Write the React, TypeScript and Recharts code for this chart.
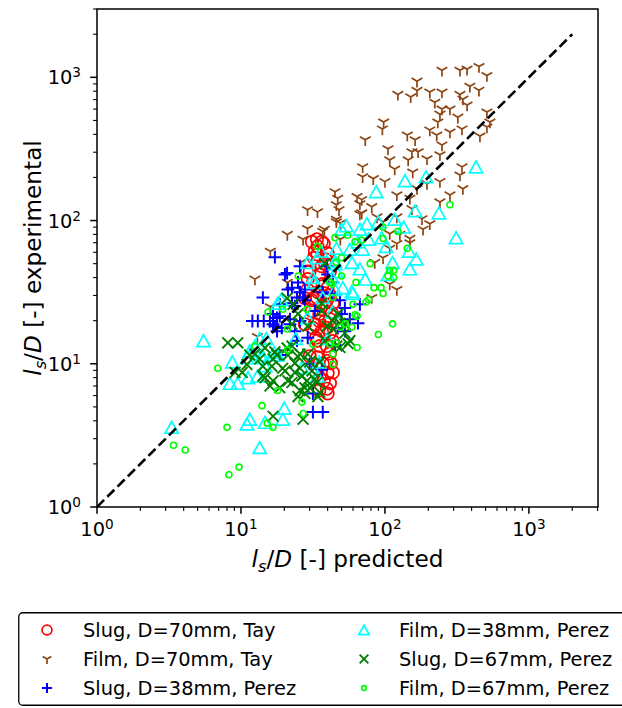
import React from 'react';
import { ScatterChart, Scatter, XAxis, YAxis, ReferenceArea } from 'recharts';

type P = [number, number];

// Slug, D=70mm, Tay  (predicted, experimental)
const slug70Tay: P[] = [
  [33.7, 74], [37.6, 69], [40, 59], [34, 66], [34, 58], [33.7, 51], [30, 44], [35, 42], [31.6, 37], [37, 36],
  [40, 34], [29, 33], [33.7, 29], [39.5, 27.8], [43.5, 26.5], [42.8, 22.6], [35, 19.9], [27.8, 18.9], [39.5, 17.8],
  [31.6, 17.8], [36.4, 16.9], [41.5, 16.4], [39.5, 13.3], [30, 11.3], [34, 11.1], [39.5, 10.5], [37, 10], [40, 8.6],
  [41.5, 7.3], [39.5, 6.7], [35, 6.5], [28.7, 44], [35, 22.3], [32.6, 18.9], [39.5, 24.5], [32.6, 61], [41.5, 44],
  [38.3, 50], [34, 14.5], [41.5, 11.8], [36.4, 48], [31, 27.8], [38.3, 31],
  [31.1, 71], [36.4, 71], [32.1, 55], [38.9, 53.5], [29.1, 39], [34.2, 31.6], [41.5, 30.1], [31.1, 23.4], [36.4, 25.3],
  [41.5, 20.5], [33.2, 15.2], [38.3, 19.9], [43.5, 14.4], [35.3, 13.3], [42.1, 10.1], [34.2, 9.3], [37.6, 7.6],
  [43.5, 8.7], [40, 6.2], [35.3, 8], [31.6, 28.7], [27.8, 28.7],
];

// Film, D=70mm, Tay
const film70Tay: P[] = [
  [249, 1120], [332, 1120], [372, 1140], [450, 1190], [511, 1030], [167, 940], [123, 760], [167, 810], [151, 730],
  [205, 790], [249, 790], [332, 760], [389, 866], [450, 813], [222, 670], [348, 704], [372, 640], [249, 600], [283, 600],
  [241, 553], [321, 527], [511, 572], [536, 487], [511, 450], [98, 487], [96, 436], [205, 429], [233, 487], [283, 415],
  [343, 436], [457, 389], [229, 395], [73, 366], [143, 395], [162, 366], [249, 337], [105, 317], [154, 302], [170, 302],
  [108, 265], [145, 265], [196, 270], [241, 288], [29, 119], [34, 115], [37, 84], [29, 88], [21, 80], [70, 237],
  [70, 202], [83, 196], [100, 187], [117, 229], [156, 218], [196, 181], [241, 187], [343, 237], [332, 208], [45, 159],
  [47, 143], [46, 129], [46, 98], [64, 147], [69, 140], [67, 131], [81, 125], [121, 151], [149, 143], [167, 167],
  [283, 151], [348, 167], [154, 121], [241, 135], [69, 113], [88, 106], [97, 98], [121, 106], [181, 103], [205, 95],
  [184, 87], [108, 81], [127, 80], [149, 75], [49, 74], [108, 64], [121, 69], [149, 70], [97, 55], [85, 51], [108, 36],
  [121, 33], [81, 29], [48, 119], [46, 102], [38, 87], [27, 74], [16, 61], [12.5, 39], [26, 51], [21, 37], [13, 15.5],
  [16, 25], [67, 111], [49, 96],
];

// Slug, D=38mm, Perez
const slug38Perez: P[] = [
  [17.2, 55.5], [20.9, 43], [21.2, 33], [14.2, 29], [18.6, 26], [12, 19.9], [13.1, 19.9], [14.4, 19.9], [15.9, 19.9],
  [16.7, 22.3], [18.6, 21.5], [17.8, 16.9], [24.9, 37], [27.8, 33], [39.5, 48], [40, 42], [43.5, 37], [24.5, 29],
  [37, 31.6], [20.2, 42], [42.8, 31], [27, 29], [22.6, 26.5], [52.7, 24.5], [32.6, 23.4], [19.2, 17.8], [47, 17.8],
  [17.8, 20.9], [17.2, 18.3], [16.7, 18.9], [21.9, 18.9], [30, 10], [36.4, 9.1], [31.6, 6.2], [31.6, 4.6], [37, 4.6],
  [18.6, 11.5], [23.7, 16.9], [25.7, 48], [48.7, 27.8], [57, 20.5], [52.7, 16.9], [45, 13.5], [67, 26], [65, 19.2],
  [50, 22.3], [22.6, 34], [25.7, 31.6], [23.7, 25.3], [27.8, 27.8], [21.9, 20.5], [25.7, 19.9], [29.1, 15.2],
  [24.5, 14.5],
];

// Film, D=38mm, Perez
const film38Perez: P[] = [
  [429, 237], [193, 202], [138, 190], [87, 159], [162, 117], [237, 113], [117, 102], [54, 92], [75, 95], [90, 98],
  [67, 87], [135, 90], [312, 76], [65, 71], [77, 74], [95, 76], [57, 63], [70, 63], [102, 66], [165, 54], [147, 61],
  [113, 51], [149, 46], [67, 46], [105, 42], [73, 39], [45, 50], [51, 34], [59, 32], [46, 44], [43, 40], [29, 51],
  [34, 55], [46, 64], [32, 37], [45, 33], [29, 21], [43, 23], [37, 29], [15, 15], [5.5, 14.5], [50, 87], [36, 61],
  [59, 51], [60, 31], [19, 28], [24, 15], [12.5, 13.3], [14, 11], [26.5, 9.4], [20, 4.9], [19.5, 4.1], [14.7, 3.9],
  [40, 15], [35, 10.3], [34, 8.2], [8.7, 10.3], [8.4, 7.3], [9.5, 7.3], [11.2, 8], [13, 8.2], [11, 11], [14, 11.5],
  [18, 11.5], [14.7, 9.7], [13.5, 15], [11.5, 4.1], [11, 3.8], [13.5, 2.6], [3.3, 3.6], [11.5, 12.3], [17, 12],
  [18, 26.5], [31.6, 40], [45, 52],
];

// Slug, D=67mm, Perez
const slug67Perez: P[] = [
  [8.1, 14], [9.5, 14], [11.5, 11.5], [13.5, 10.8], [9.1, 8.7], [10.2, 8.7], [17.8, 11.5], [19.5, 9.3], [14.7, 8],
  [15.9, 7], [18.6, 6.8], [21.2, 7.6], [23.7, 8.7], [25.7, 9.3], [28.7, 7.6], [31.1, 8.9], [33.7, 7.4], [35.3, 6.3],
  [27.8, 6.2], [20.9, 12.9], [24.9, 11.2], [29.1, 11.7], [16.7, 4.3], [27, 4.1], [35.3, 10.3], [14.7, 12.9], [17.2, 12.1],
  [21.2, 11.5], [16.4, 9.6], [20.2, 8.9], [14.2, 8.2], [16.7, 7.6], [30.1, 6.8], [25.7, 6.5], [55.5, 13.8], [39.5, 18.3],
  [38.3, 14.5], [46.4, 13.3], [11, 9.9], [14.2, 9.6], [16.7, 10.8], [20.9, 28.7], [23, 26], [24.9, 22.3], [36.4, 23.4],
  [43.5, 19.9], [52.7, 18.9], [22.6, 18.9], [29.1, 18.3], [38.3, 50], [36.4, 26.5], [52.7, 16.4], [57.1, 14.5],
  [48.7, 13], [43.5, 17.5], [48.7, 19.2], [47.1, 22.3], [12.5, 11.7], [22.6, 13.3], [25.7, 11.7], [23.7, 10.1],
  [30.1, 10.3], [26.5, 8.2], [22.6, 7.4], [32.6, 7.8], [27.8, 6.8], [34.2, 5.9], [24.9, 5.9],
];

// Film, D=67mm, Perez
const film67Perez: P[] = [
  [283, 129], [45, 76], [55, 79], [62, 71], [69, 73], [97, 90], [97, 75], [123, 84], [143, 64], [79, 50], [50, 55],
  [50, 41], [63, 37], [43, 36], [108, 45], [115, 45], [105, 41], [115, 40], [84, 34], [94, 34], [97, 31], [74, 27],
  [77, 28], [60, 26], [64, 21.5], [113, 19], [90, 16], [64, 13], [59, 18], [46, 14], [43.5, 11.7], [34, 66], [25, 41],
  [41.5, 37], [43.5, 29], [15.4, 23], [28.7, 24], [21, 17.5], [19.5, 24], [49, 18], [62, 22], [12.5, 13.3], [21, 12.5],
  [31.6, 13.7], [41.5, 13.7], [43.5, 9.9], [53, 19], [18, 6.5], [14, 5.1], [26.5, 5.4], [27, 4.5], [15.2, 3.85],
  [16.7, 3.6], [6.9, 9.3], [8, 3.6], [4.1, 2.5], [9.7, 1.9], [8.25, 1.68], [3.4, 2.7], [46, 51],
];

// y = x reference line end points
const identityLine: P[] = [[1, 1], [2000, 2000]];

// axis ticks (majors are powers of ten, the rest are minor ticks)
const axisTicks: number[] = [
  1, 2, 3, 4, 5, 6, 7, 8, 9, 10, 20, 30, 40, 50, 60, 70, 80, 90,
  100, 200, 300, 400, 500, 600, 700, 800, 900, 1000, 2000, 3000,
];
const xDomain: [number, number] = [1, 3020];
const yDomain: [number, number] = [1, 3000];

const legendLabels: string[] = [
  'Slug, D=70mm, Tay',
  'Film, D=70mm, Tay',
  'Slug, D=38mm, Perez',
  'Film, D=38mm, Perez',
  'Slug, D=67mm, Perez',
  'Film, D=67mm, Perez',
];

const COLORS = {
  red: '#ff0000',
  brown: '#8b4513',
  blue: '#0000ff',
  cyan: '#00ffff',
  green: '#008000',
  lime: '#00ff00',
};

const FONT = "'DejaVu Sans', sans-serif";

type Kind = 'circle' | 'tri_down' | 'plus' | 'triangle' | 'x' | 'small';

function drawMarker(kind: Kind, cx: number, cy: number, color: string, s = 1) {
  switch (kind) {
    case 'circle':
      return <circle cx={cx} cy={cy} r={6.2 * s} fill="none" stroke={color} strokeWidth={1.7} />;
    case 'tri_down': {
      const r = 6.2 * s;
      return (
        <path
          d={`M${cx},${cy}L${cx},${cy + r}M${cx},${cy}L${cx - 0.866 * r},${cy - 0.5 * r}M${cx},${cy}L${cx + 0.866 * r},${cy - 0.5 * r}`}
          stroke={color}
          strokeWidth={1.7}
          fill="none"
        />
      );
    }
    case 'plus': {
      const r = 6.4 * s;
      return (
        <path d={`M${cx - r},${cy}H${cx + r}M${cx},${cy - r}V${cy + r}`} stroke={color} strokeWidth={2} fill="none" />
      );
    }
    case 'x': {
      const r = 5.4 * s;
      return (
        <path
          d={`M${cx - r},${cy - r}L${cx + r},${cy + r}M${cx - r},${cy + r}L${cx + r},${cy - r}`}
          stroke={color}
          strokeWidth={1.9}
          fill="none"
        />
      );
    }
    case 'triangle': {
      const rx = 6.6 * s;
      const ry = 5.9 * s;
      return (
        <path
          d={`M${cx},${cy - ry}L${cx - rx},${cy + ry}L${cx + rx},${cy + ry}Z`}
          stroke={color}
          strokeWidth={1.7}
          fill="none"
          strokeLinejoin="miter"
        />
      );
    }
    case 'small':
    default:
      return <circle cx={cx} cy={cy} r={3 * s} fill="none" stroke={color} strokeWidth={1.6} />;
  }
}

const markerShape = (kind: Kind, color: string) => (props: any) => {
  const { cx, cy } = props;
  if (cx == null || cy == null) return <g />;
  return drawMarker(kind, cx, cy, color);
};

const series: { name: string; data: P[]; kind: Kind; color: string }[] = [
  { name: legendLabels[0], data: slug70Tay, kind: 'circle', color: COLORS.red },
  { name: legendLabels[1], data: film70Tay, kind: 'tri_down', color: COLORS.brown },
  { name: legendLabels[2], data: slug38Perez, kind: 'plus', color: COLORS.blue },
  { name: legendLabels[3], data: film38Perez, kind: 'triangle', color: COLORS.cyan },
  { name: legendLabels[4], data: slug67Perez, kind: 'x', color: COLORS.green },
  { name: legendLabels[5], data: film67Perez, kind: 'small', color: COLORS.lime },
];

const toXY = (a: P[]) => a.map(([x, y]) => ({ x, y }));

const isMajor = (v: number) => Math.abs(Math.log10(v) - Math.round(Math.log10(v))) < 1e-9;

const XTick = (props: any) => {
  const { x, y, payload } = props;
  const v = payload.value as number;
  const major = isMajor(v);
  return (
    <g>
      <line x1={x} y1={y} x2={x} y2={y + (major ? 6.8 : 3.9)} stroke="#000" strokeWidth={major ? 1.5 : 1.1} />
      {major && (
        <text x={x} y={y + 29} textAnchor="middle" fontSize={19.4} fill="#000" fontFamily={FONT}>
          <tspan>10</tspan>
          <tspan dy={-7} fontSize={13.6}>{Math.round(Math.log10(v))}</tspan>
        </text>
      )}
    </g>
  );
};

const YTick = (props: any) => {
  const { x, y, payload } = props;
  const v = payload.value as number;
  const major = isMajor(v);
  return (
    <g>
      <line x1={x - (major ? 6.8 : 3.9)} y1={y} x2={x} y2={y} stroke="#000" strokeWidth={major ? 1.5 : 1.1} />
      {major && (
        <text x={x - 16} y={y + 7} textAnchor="end" fontSize={19.4} fill="#000" fontFamily={FONT}>
          <tspan>10</tspan>
          <tspan dy={-7} fontSize={13.6}>{Math.round(Math.log10(v))}</tspan>
        </text>
      )}
    </g>
  );
};

const AxisTitle = ({ x, y, rotate, rest }: { x: number; y: number; rotate?: boolean; rest: string }) => (
  <text
    x={x}
    y={y}
    textAnchor="middle"
    fontSize={23.2}
    fill="#000"
    fontFamily={FONT}
    transform={rotate ? `rotate(-90 ${x} ${y})` : undefined}
  >
    <tspan fontStyle="italic">l</tspan>
    <tspan fontStyle="italic" fontSize={16.2} dy={5}>s</tspan>
    <tspan dy={-5}>/</tspan>
    <tspan fontStyle="italic">D</tspan>
    <tspan>{rest}</tspan>
  </text>
);

const XLabel = (props: any) => {
  const vb = props.viewBox;
  return <AxisTitle x={vb.x + vb.width / 2} y={vb.y + 60} rest=" [-] predicted" />;
};

const YLabel = (props: any) => {
  const vb = props.viewBox;
  return <AxisTitle x={vb.x + 33} y={vb.y + vb.height / 2} rotate rest=" [-] experimental" />;
};

const LegendBox = () => (
  <svg
    width={604}
    height={96}
    style={{ position: 'absolute', left: 18, top: 612, overflow: 'hidden' }}
    fontFamily={FONT}
  >
    <rect x={0.75} y={0.75} width={640} height={92.5} rx={4} fill="#fff" stroke="#000" strokeWidth={1.3} />
    {series.map((s, i) => {
      const col = i < 3 ? 0 : 1;
      const row = i % 3;
      const mx = col ? 346 : 29;
      const tx = col ? 381 : 65;
      const cy = 18 + row * 29;
      return (
        <g key={s.name}>
          {drawMarker(s.kind, mx, cy, s.color, 0.8)}
          <text x={tx} y={cy + 7} fontSize={19.4} fill="#000">
            {s.name}
          </text>
        </g>
      );
    })}
  </svg>
);

export default function App() {
  return (
    <div
      style={{
        position: 'fixed',
        left: 0,
        top: 0,
        width: 622,
        height: 708,
        overflow: 'hidden',
        background: '#fff',
      }}
    >
      <div style={{ position: 'absolute', left: 8, top: 8 }}>
        <ScatterChart
          width={614}
          height={600}
          margin={{ top: 1, right: 24, bottom: 40, left: 0 }}
          style={{ fontFamily: FONT }}
        >
          <XAxis
            type="number"
            dataKey="x"
            scale="log"
            domain={xDomain}
            allowDataOverflow
            ticks={axisTicks.filter((t) => t <= xDomain[1])}
            interval={0}
            tick={<XTick />}
            tickLine={false}
            tickSize={0}
            tickMargin={0}
            axisLine={false}
            height={61}
            label={XLabel}
          />
          <YAxis
            type="number"
            dataKey="y"
            scale="log"
            domain={yDomain}
            allowDataOverflow
            ticks={axisTicks.filter((t) => t <= yDomain[1])}
            interval={0}
            tick={<YTick />}
            tickLine={false}
            tickSize={0}
            tickMargin={0}
            axisLine={false}
            width={89}
            label={YLabel}
          />
          {series.map((s) => (
            <Scatter
              key={s.name}
              name={s.name}
              data={toXY(s.data)}
              shape={markerShape(s.kind, s.color)}
              isAnimationActive={false}
            />
          ))}
          <Scatter
            name="identity"
            data={toXY(identityLine)}
            line={{ stroke: '#000', strokeWidth: 2.6, strokeDasharray: '10 4.5', fill: 'none' }}
            shape={() => <g />}
            isAnimationActive={false}
          />
          <ReferenceArea
            x1={xDomain[0]}
            x2={xDomain[1]}
            y1={yDomain[0]}
            y2={yDomain[1]}
            fill="none"
            fillOpacity={0}
            stroke="#000"
            strokeWidth={1.5}
            ifOverflow="visible"
          />
        </ScatterChart>
      </div>
      <LegendBox />
    </div>
  );
}
